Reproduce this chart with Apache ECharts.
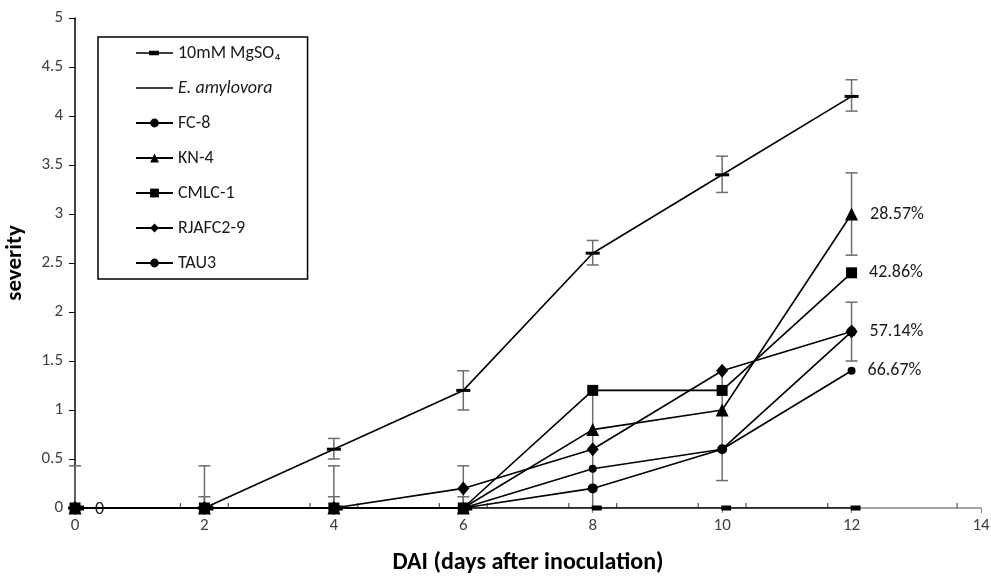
<!DOCTYPE html>
<html>
<head>
<meta charset="utf-8">
<script src="https://cdn.jsdelivr.net/npm/echarts@6/dist/echarts.min.js"></script>
<style>
  html, body { margin: 0; padding: 0; background: #fff; }
  #chart { width: 991px; height: 579px; }
</style>
</head>
<body>
<div id="chart"></div>
<script>
// 数据
const days = [0, 2, 4, 6, 8, 10, 12]
const mgso4 = [0, 0, 0, 0, 0, 0, 0]
const eAmylovora = [0, 0, 0.6, 1.2, 2.6, 3.4, 4.2]
const fc8 = [0, 0, 0, 0, 0.2, 0.6, 1.8]
const kn4 = [0, 0, 0, 0, 0.8, 1.0, 3.0]
const cmlc1 = [0, 0, 0, 0, 1.2, 1.2, 2.4]
const rjafc29 = [0, 0, 0, 0.2, 0.6, 1.4, 1.8]
const tau3 = [0, 0, 0, 0, 0.4, 0.6, 1.4]

// 最后一天的防效标签
const reductionLabels = {
  'KN-4': '28.57%',
  'CMLC-1': '42.86%',
  'RJAFC2-9': '57.14%',
  'TAU3': '66.67%'
}

// 误差线: x, 下限, 上限, 下端帽, 上端帽
const errX = [0, 2, 2, 4, 4, 4, 6, 6, 6, 8, 8, 10, 10, 12, 12, 12]
const errLow = [0, 0, 0, 0, 0, 0.5, 0, 0, 1.0, 0, 2.48, 0.28, 3.22, 4.05, 2.58, 1.5]
const errHigh = [0.43, 0.43, 0.115, 0.43, 0.115, 0.71, 0.43, 0.115, 1.4, 1.2, 2.73, 1.4, 3.59, 4.37, 3.42, 2.1]
const errCapLow = [0, 0, 0, 0, 0, 1, 0, 0, 1, 0, 1, 1, 1, 1, 1, 1]
const errCapHigh = [1, 1, 1, 1, 1, 1, 1, 1, 1, 0, 1, 0, 1, 1, 1, 1]

// x方向误差线端帽（落在横轴上）
const xCaps = [1.63, 2.37, 3.63, 4.37, 5.63, 6.37, 7.63, 8.37, 9.63, 10.37, 11.63, 13.63]

const FONT = 'Carlito, Lato, "Open Sans", sans-serif'

const toPairs = (vals) => days.map((d, i) => [d, vals[i]])

const chart = echarts.init(document.getElementById('chart'))

const makeSeries = (name, vals, symbol, size, extra) => {
  const label = reductionLabels[name]
  const data = toPairs(vals).map((p, i) => {
    if (label && i === vals.length - 1) {
      return {
        value: p,
        label: {
          show: true,
          position: 'right',
          distance: 12,
          formatter: label,
          fontFamily: FONT,
          fontSize: 18,
          color: '#1a1a1a'
        }
      }
    }
    return p
  })
  return Object.assign({
    name: name,
    type: 'line',
    data: data,
    symbol: symbol,
    symbolSize: size,
    showAllSymbol: true,
    lineStyle: { color: '#000', width: 1.6 },
    itemStyle: { color: '#000' },
    emphasis: { disabled: true },
    animation: false,
    z: 3
  }, extra || {})
}

const errData = errX.map((x, i) => [x, errLow[i], errHigh[i], errCapLow[i], errCapHigh[i]])

const option = {
  animation: false,
  backgroundColor: '#fff',
  grid: {
    left: 75,
    right: 10,
    top: 18,
    bottom: 71,
    containLabel: false,
    outerBoundsMode: 'none'
  },
  legend: {
    orient: 'vertical',
    left: 98,
    top: 37,
    padding: [7, 27, 7, 37],
    borderColor: '#000',
    borderWidth: 1.5,
    itemWidth: 37,
    itemHeight: 11,
    itemGap: 17,
    textStyle: {
      fontFamily: FONT,
      fontSize: 18,
      color: '#1a1a1a',
      rich: {
        i: { fontStyle: 'italic', fontFamily: FONT, fontSize: 18, color: '#1a1a1a' }
      }
    },
    formatter: (name) => name === 'E. amylovora' ? '{i|E. amylovora}' : name,
    data: [
      { name: '10mM MgSO₄', icon: 'path://M0,1.6 H37 V3.1 H0 Z M13,0 H23 V4.6 H13 Z' },
      { name: 'E. amylovora', icon: 'path://M0,0 H37 V1.6 H0 Z' },
      { name: 'FC-8' },
      { name: 'KN-4' },
      { name: 'CMLC-1' },
      { name: 'RJAFC2-9' },
      { name: 'TAU3' }
    ]
  },
  xAxis: {
    type: 'value',
    min: 0,
    max: 14,
    interval: 2,
    name: 'DAI (days after inoculation)',
    nameLocation: 'middle',
    nameGap: 43,
    nameTextStyle: { fontFamily: FONT, fontSize: 24, fontWeight: 'bold', color: '#000' },
    axisLine: { lineStyle: { color: '#868686', width: 1.5 } },
    axisTick: { show: true, length: 5, lineStyle: { color: '#868686' } },
    axisLabel: { fontFamily: FONT, fontSize: 17, color: '#404040', margin: 9 },
    splitLine: { show: false }
  },
  yAxis: {
    type: 'value',
    min: 0,
    max: 5,
    interval: 0.5,
    name: 'severity',
    nameLocation: 'middle',
    nameGap: 48,
    nameTextStyle: { fontFamily: FONT, fontSize: 23, fontWeight: 'bold', color: '#000' },
    axisLine: { show: true, lineStyle: { color: '#000', width: 1.5 } },
    axisTick: { show: true, length: 6, lineStyle: { color: '#000' } },
    axisLabel: { fontFamily: FONT, fontSize: 17, color: '#404040', margin: 12 },
    splitLine: { show: false }
  },
  series: [
    // 误差线
    {
      type: 'custom',
      name: 'err',
      data: errData,
      z: 2,
      silent: true,
      renderItem: (params, api) => {
        const x = api.value(0)
        const lo = api.coord([x, api.value(1)])
        const hi = api.coord([x, api.value(2)])
        const cap = 6
        const style = { stroke: '#6e6e6e', lineWidth: 1.5 }
        const children = [{
          type: 'line',
          shape: { x1: lo[0], y1: lo[1], x2: hi[0], y2: hi[1] },
          style: style
        }]
        if (api.value(3)) {
          children.push({ type: 'line', shape: { x1: lo[0] - cap, y1: lo[1], x2: lo[0] + cap, y2: lo[1] }, style: style })
        }
        if (api.value(4)) {
          children.push({ type: 'line', shape: { x1: hi[0] - cap, y1: hi[1], x2: hi[0] + cap, y2: hi[1] }, style: style })
        }
        return { type: 'group', children: children }
      }
    },
    // 横向误差端帽
    {
      type: 'custom',
      name: 'xcap',
      data: xCaps.map(v => [v, 0]),
      z: 2,
      silent: true,
      renderItem: (params, api) => {
        const p = api.coord([api.value(0), 0])
        return {
          type: 'line',
          shape: { x1: p[0], y1: p[1], x2: p[0], y2: p[1] - 5 },
          style: { stroke: '#555', lineWidth: 1.2 }
        }
      }
    },
    makeSeries('10mM MgSO₄', mgso4, 'rect', [10, 5], {
      symbolOffset: [4, 0],
      z: 4,
      data: toPairs(mgso4).map((p, i) => i === 0 ? {
        value: p,
        label: { show: true, position: 'right', distance: 0, offset: [11, 1], formatter: '0', fontFamily: FONT, fontSize: 18, color: '#1a1a1a' }
      } : p)
    }),
    makeSeries('E. amylovora', eAmylovora, 'rect', [14, 3]),
    makeSeries('FC-8', fc8, 'circle', 10),
    makeSeries('KN-4', kn4, 'triangle', 13),
    makeSeries('CMLC-1', cmlc1, 'rect', 11),
    makeSeries('RJAFC2-9', rjafc29, 'diamond', [12, 14]),
    makeSeries('TAU3', tau3, 'circle', 8)
  ]
}

chart.setOption(option)
</script>
</body>
</html>
